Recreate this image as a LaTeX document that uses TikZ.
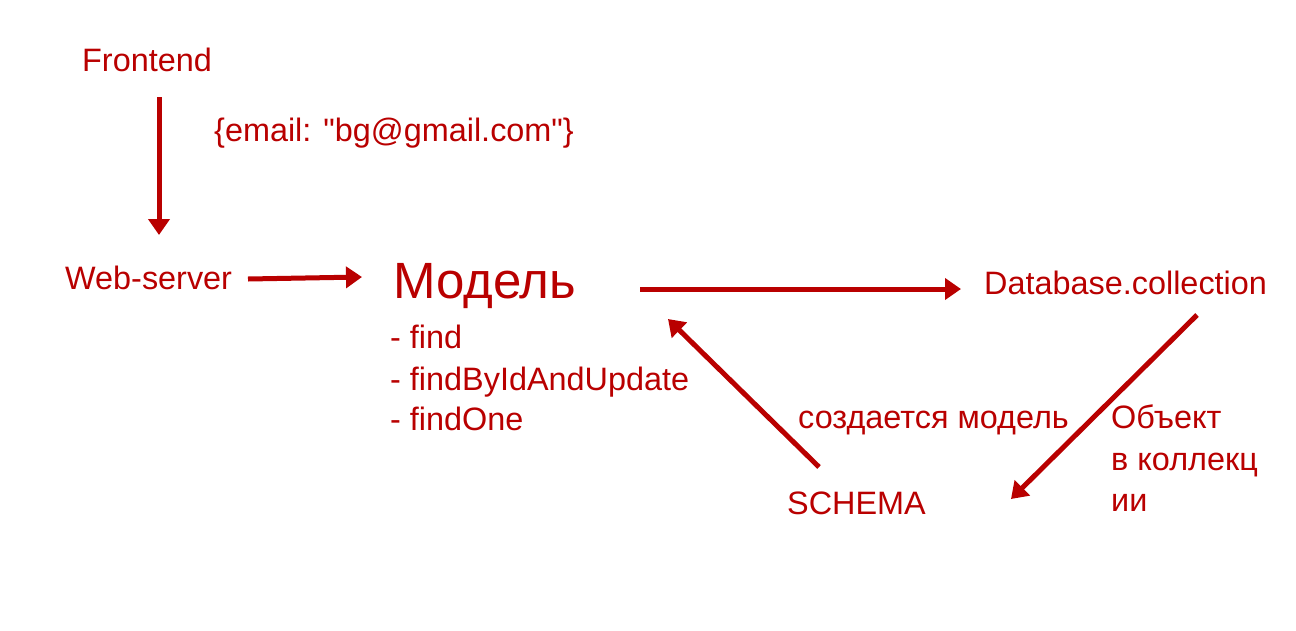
\documentclass[tikz,border=0pt]{standalone}
\usepackage{fontspec}
\setmainfont{Liberation Sans}
\newfontfamily\plainarial{Liberation Sans}
\usetikzlibrary{arrows.meta}
\definecolor{dred}{RGB}{185,0,0}
\begin{document}
\begin{tikzpicture}[x=1pt,y=-1pt,
  txt/.style={text=dred,font=\fontsize{32.4}{38}\selectfont,inner sep=0pt,anchor=base west},
  big/.style={text=dred,font=\fontsize{51}{58}\selectfont,inner sep=0pt,anchor=base west},
  arr/.style={draw=dred,line width=5pt,-{Triangle[length=16pt,width=21pt]}}]
\useasboundingbox[fill=white] (0,0) rectangle (1296,630);
\node[txt] (front) at (82,71) {Frontend};
\node[txt] (email) at (214,141) {\plainarial\{email: "bg@gmail.com"\}};
\node[txt] (web) at (65,289) {Web-server};
\node[big] (model) at (393,298) {Модель};
\node[txt] (db) at (984,294) {Database.collection};
\node[txt] (m1) at (390,348) {- find};
\node[txt] (m2) at (390,390) {- findByIdAndUpdate};
\node[txt] (m3) at (390,430) {- findOne};
\node[txt] (creates) at (798,428) {создается модель};
\node[txt] (schema) at (787,514) {SCHEMA};
\node[txt] (obj1) at (1111,428) {Объект};
\node[txt] (obj2) at (1111,470) {в коллекц};
\node[txt] (obj3) at (1111,511) {ии};
\coordinate (a1s) at (159,97);
\coordinate (a1e) at (159,235);
\coordinate (a2s) at (248,279);
\coordinate (a2e) at (362,277);
\coordinate (a3s) at (640,289);
\coordinate (a3e) at (961,289);
\coordinate (a4s) at (819,467);
\coordinate (a4e) at (668,319);
\coordinate (a5s) at (1197,315);
\coordinate (a5e) at (1011,499);
\draw[arr] (a1s) -- (a1e);
\draw[arr] (a2s) -- (a2e);
\draw[arr] (a3s) -- (a3e);
\draw[arr] (a4s) -- (a4e);
\draw[arr] (a5s) -- (a5e);
\end{tikzpicture}
\end{document}
